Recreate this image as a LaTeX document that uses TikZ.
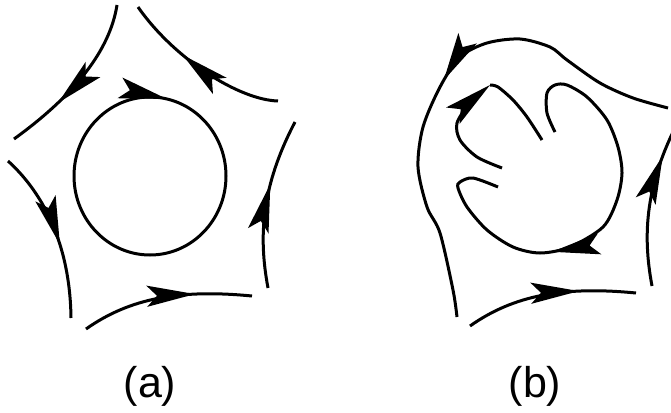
\documentclass[tikz,border=0pt]{standalone}
\usepackage{fontspec}
\setmainfont{Liberation Sans}
\usetikzlibrary{arrows.meta,decorations.markings}

\begin{document}
\begin{tikzpicture}[x=1pt, y=-1pt, line width=3pt,
  >={Stealth[length=48pt, width=21pt, inset=10pt]},
  flow/.style={decoration={markings, mark=at position #1 with {\arrow{>}}}, postaction={decorate}},
  sublabel/.style={font=\fontsize{43}{43}\selectfont, anchor=base}]
  \useasboundingbox (0,0) rectangle (671,412);

  % (a)
  \coordinate (ca) at (150,176);
  \draw[flow=0.67] (117,5) .. controls (110,50) and (75,95) .. (14,139);
  \draw[flow=0.62] (278,101) .. controls (240,100) and (175,60) .. (138,7);
  \draw[flow=0.57] (8,161) .. controls (40,190) and (70,240) .. (71,318);
  \draw[flow=0.61] (268,288) .. controls (258,235) and (262,185) .. (295,122);
  \draw[flow=0.67] (86,329) .. controls (130,298) and (180,289) .. (252,296);
  \draw[flow=0.285] (ca) ++(-180:76 and 79) arc[start angle=-180, end angle=180, x radius=76, y radius=79];
  \node[sublabel] (capa) at (150,397) {(a)};

  % (b)
  \draw[flow=0.51] plot[smooth] coordinates {(668,108) (633,98) (600,83) (567,60) (550,47) (520,39) (487,43) (460,57) (440,87) (423,127) (418,167) (427,207) (440,233) (453,290) (457,317)};
  \draw[flow=0.63] plot[smooth] coordinates {(555,132) (547,113) (547,93) (555,85) (567,85) (587,97) (607,120) (618,147) (622,173) (617,200) (603,227) (570,247) (540,253) (513,247) (487,230) (467,207) (458,188) (460,182) (473,178) (498,187)};
  \draw[->] plot[smooth] coordinates {(502,168) (477,157) (460,140) (457,123) (470,103) (490,85)};
  \draw plot[smooth] coordinates {(490,85) (498,87) (513,100) (527,117) (542,140)};
  \draw[flow=0.77] (652,286) .. controls (642,233) and (646,183) .. (679,120);
  \draw[flow=0.67] (470,326) .. controls (514,295) and (564,286) .. (636,293);
  \node[sublabel] (capb) at (535,397) {(b)};
\end{tikzpicture}
\end{document}
